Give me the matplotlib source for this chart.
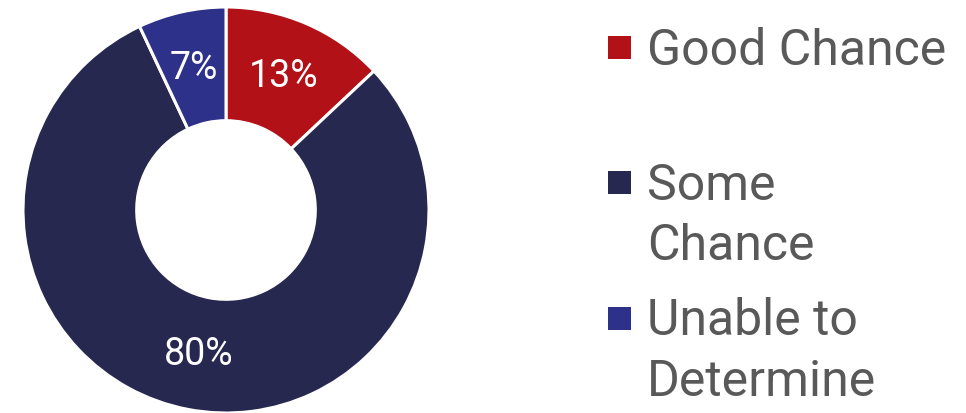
import matplotlib.pyplot as plt
from matplotlib.patches import Rectangle

# data
labels = ['Good Chance', 'Some\nChance', 'Unable to\nDetermine']
values = [13, 80, 7]
colors = ['#B21118', '#262850', '#2E3189']

plt.rcParams['font.family'] = ['Roboto', 'DejaVu Sans']

W, H = 966, 414
fig = plt.figure(figsize=(W / 100, H / 100), dpi=100)

# donut: centre (226, 211) px, radius 203 px
cx, cy, r = 226, 211, 203
ax = fig.add_axes([(cx - r) / W, (H - cy - r) / H, 2 * r / W, 2 * r / H])
wedges, texts, autotexts = ax.pie(
    values, colors=colors, startangle=90, counterclock=False,
    autopct=lambda p: f'{p:.0f}%', pctdistance=0.72,
    wedgeprops=dict(width=0.56, edgecolor='white', linewidth=2.2),
    textprops=dict(color='white', fontsize=27))
ax.set_xlim(-1, 1)
ax.set_ylim(-1, 1)
ax.set_aspect('equal')
ax.axis('off')

# legend drawn by hand, pixel positions
sq_top = [37, 172, 308]
baselines = [[65], [200, 260], [335, 396]]
for lab, col, top, bl in zip(labels, colors, sq_top, baselines):
    fig.patches.append(Rectangle((608 / W, 1 - (top + 23) / H), 23 / W, 23 / H,
                                 transform=fig.transFigure, facecolor=col,
                                 edgecolor='none'))
    for line, y in zip(lab.split('\n'), bl):
        fig.text(647 / W, 1 - y / H, line, fontsize=36, color='#595959',
                 ha='left', va='baseline')

fig.savefig('out.png', dpi=100)
